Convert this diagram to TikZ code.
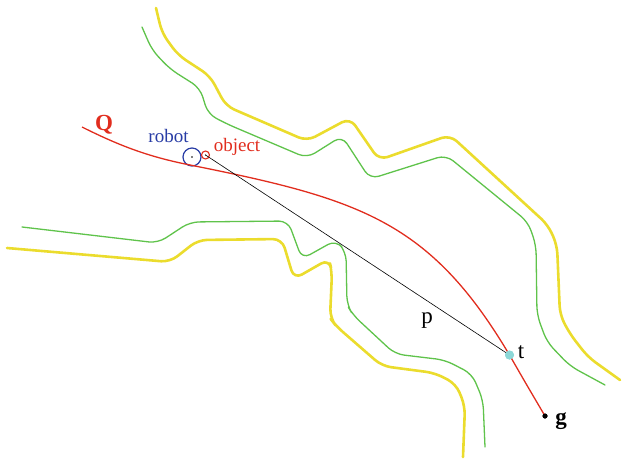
\documentclass[tikz,border=0pt]{standalone}
\usepackage{fontspec}
\setmainfont{Liberation Serif}
\definecolor{wallY}{RGB}{235,220,45}
\definecolor{wallG}{RGB}{95,195,75}
\definecolor{pathR}{RGB}{225,45,30}
\definecolor{robB}{RGB}{40,60,165}
\definecolor{dotC}{RGB}{140,215,215}
\tikzset{
  yellowwall/.style={draw=wallY,line width=2.6pt,line cap=round,line join=round,rounded corners=9pt},
  greenwall/.style={draw=wallG,line width=1.3pt,line cap=round,line join=round,rounded corners=9pt},
  qpath/.style={draw=pathR,line width=1.3pt},
  lbl/.style={font=\fontsize{19}{21}\selectfont,inner sep=0pt},
  biglbl/.style={font=\fontsize{23}{25}\selectfont,inner sep=0pt}
}
\begin{document}
\begin{tikzpicture}[x=1pt,y=-1pt]
\useasboundingbox (0,0) rectangle (623,461);
% upper walls
\draw[greenwall] (142,27) -- (152,50) -- (170,69) -- (200,88) -- (208,114) -- (227,124) -- (307,158) -- (342,136) -- (370,179) -- (446,155) -- (528,222) -- (536,245) -- (537,315) -- (547,342) -- (570,366) -- (605,385);
\draw[yellowwall] (156,8) -- (162,33) -- (178,55) -- (210,76) -- (226,106) -- (307,141) -- (350,118) -- (379,160) -- (450,135) -- (548,225) -- (557,245) -- (560,315) -- (570,334) -- (588,357) -- (620,380);
% lower walls
\draw[greenwall] (22,227) -- (158,243) -- (190,222) -- (288,221) -- (302,259) -- (336,240) -- (346,252) -- (347,305) -- (353,315) -- (395,354) -- (445,360) -- (472,374) -- (483,400) -- (485,447);
\draw[yellowwall] (7,248) -- (170,262) -- (198,240) -- (282,239) -- (294,279) -- (329,259) -- (332,272) -- (330,318) -- (336,326) -- (382,366) -- (435,373) -- (456,384) -- (465,406) -- (463,457);
% nodes
\node[circle,draw=robB,line width=1.2pt,minimum size=18pt,inner sep=0pt] (robot) at (192,157) {};
\fill (robot.center) circle (0.8pt);
\node[circle,draw=pathR,line width=1.1pt,minimum size=8pt,inner sep=0pt] (object) at (205.5,155) {};
\fill (object.center) circle (0.6pt);
\node[circle,fill=dotC,minimum size=9pt,inner sep=0pt] (t) at (509.5,355) {};
\node[circle,fill=black,minimum size=5pt,inner sep=0pt] (g) at (545,416) {};
% path Q
\draw[qpath] (82,127) .. controls (122,147) and (150,157) .. (190,165)
  .. controls (360,199) and (430,221) .. (t.center) .. controls (525,382) .. (g.center);
\draw[black,line width=0.6pt] (object.center) -- (t.center);
\fill[dotC] (t) circle (4.5pt);
\fill[black] (g) circle (2.5pt);
% labels
\node[biglbl,text=pathR,font=\fontsize{23}{25}\selectfont\bfseries] (Qlbl) at (104,125) {Q};
\node[lbl,text=robB] (robotlbl) at (168.5,136) {robot};
\node[lbl,text=pathR] (objlbl) at (237,147) {object};
\node[biglbl] (plbl) at (427,321) {p};
\node[biglbl] (tlbl) at (521,352) {t};
\node[biglbl,font=\fontsize{23}{25}\selectfont\bfseries] (glbl) at (561,421) {g};
\end{tikzpicture}
\end{document}
